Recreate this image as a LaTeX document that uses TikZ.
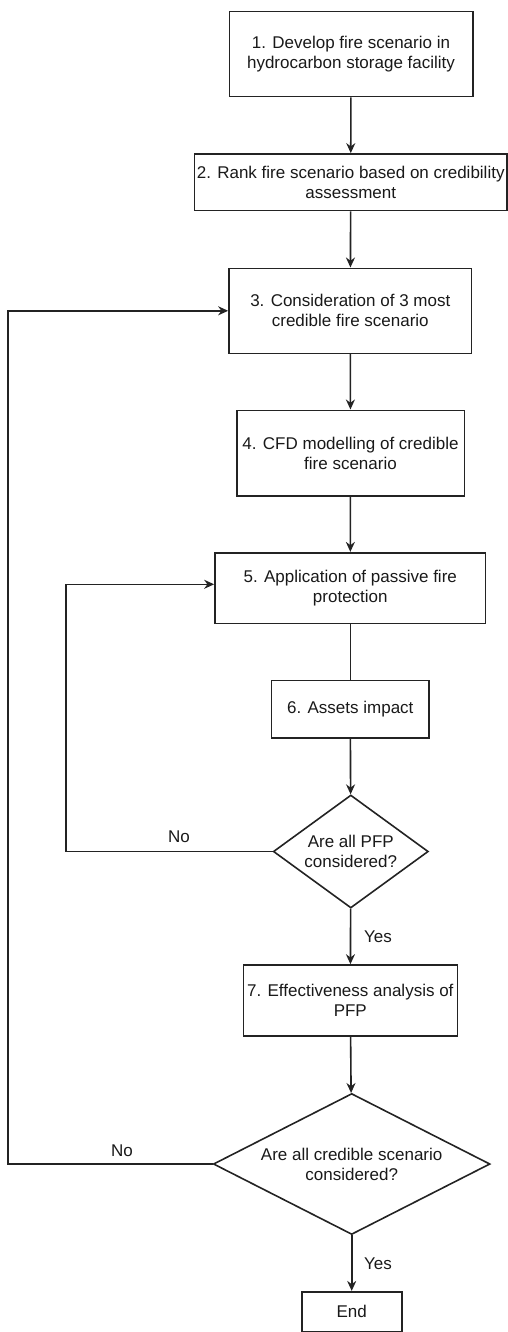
\documentclass[tikz,border=0pt]{standalone}
\usepackage{fontspec}
\setmainfont{Liberation Sans}
\usepackage{tikz}
\usetikzlibrary{positioning,arrows.meta,shapes.geometric}
\definecolor{ink}{RGB}{25,25,25}
\definecolor{wire}{RGB}{35,35,35}

\tikzset{
  stepbox/.style={draw=wire, line width=1.6pt, align=center, inner sep=0pt,
        text=ink, font=\fontsize{17pt}{20pt}\selectfont},
  decision/.style={stepbox, diamond},
  flow/.style={draw=wire, line width=1.6pt, -{Stealth[length=10pt,width=9pt]}},
  tag/.style={text=ink, font=\fontsize{17pt}{20pt}\selectfont, inner sep=0pt}
}

\begin{document}
\begin{tikzpicture}[x=1pt, y=-1pt]
  \useasboundingbox (0,0) rectangle (508,1332);

  % main column of steps
  \node[stepbox, minimum width=243.4pt, minimum height=85pt] (develop) at (351,54.2)
    {1. Develop fire scenario in\\hydrocarbon storage facility};
  \node[stepbox, minimum width=312.6pt, minimum height=56.7pt] (rank) at (350.7,182.3)
    {2. Rank fire scenario based on credibility\\assessment};
  \node[stepbox, minimum width=242.7pt, minimum height=85pt] (consider) at (350.3,310.8)
    {3. Consideration of 3 most\\credible fire scenario};
  \node[stepbox, minimum width=227.6pt, minimum height=85.4pt] (cfd) at (350.5,453)
    {4. CFD modelling of credible\\fire scenario};
  \node[stepbox, minimum width=270.7pt, minimum height=70.6pt] (pfp) at (350.3,588)
    {5. Application of passive fire\\protection};
  \node[stepbox, minimum width=157.3pt, minimum height=57.4pt] (impact) at (350.3,709)
    {6. Assets impact};
  \node[decision, aspect=1.37, minimum width=155pt, minimum height=113pt] (allpfp) at (350.8,851.5)
    {Are all PFP\\considered?};
  \node[stepbox, minimum width=214pt, minimum height=71pt] (effect) at (350.3,1000.5)
    {7. Effectiveness analysis of\\PFP};
  \node[decision, aspect=1.96, minimum width=276.7pt, minimum height=141pt] (allscen) at (351.7,1164)
    {Are all credible scenario\\considered?};
  \node[stepbox, minimum width=100pt, minimum height=40pt] (finish) at (351.7,1311.7)
    {End};

  % labels
  \node[tag] (nopfp) at (179,836.7) {No};
  \node[tag] (yespfp) at (378,936.7) {Yes};
  \node[tag] (noscen) at (122,1151) {No};
  \node[tag] (yesscen) at (378,1264) {Yes};

  % loop corners
  \coordinate (innerloop) at (65.7,851.5);
  \coordinate (outerloop) at (8,1164);

  % connectors
  \draw[flow] (develop) -- (rank);
  \draw[flow] (rank) -- (consider);
  \draw[flow] (consider) -- (cfd);
  \draw[flow] (cfd) -- (pfp);
  \draw[wire, line width=1.6pt] (pfp) -- (impact);
  \draw[flow] (impact) -- (allpfp);
  \draw[flow] (allpfp) -- (effect);
  \draw[flow] (effect) -- (allscen);
  \draw[flow] (allscen) -- (finish);
  \draw[flow] (allpfp.west) -- (innerloop) |- ([yshift=3.7pt]pfp.west);
  \draw[flow] (allscen.west) -- (outerloop) |- (consider.west);
\end{tikzpicture}
\end{document}
